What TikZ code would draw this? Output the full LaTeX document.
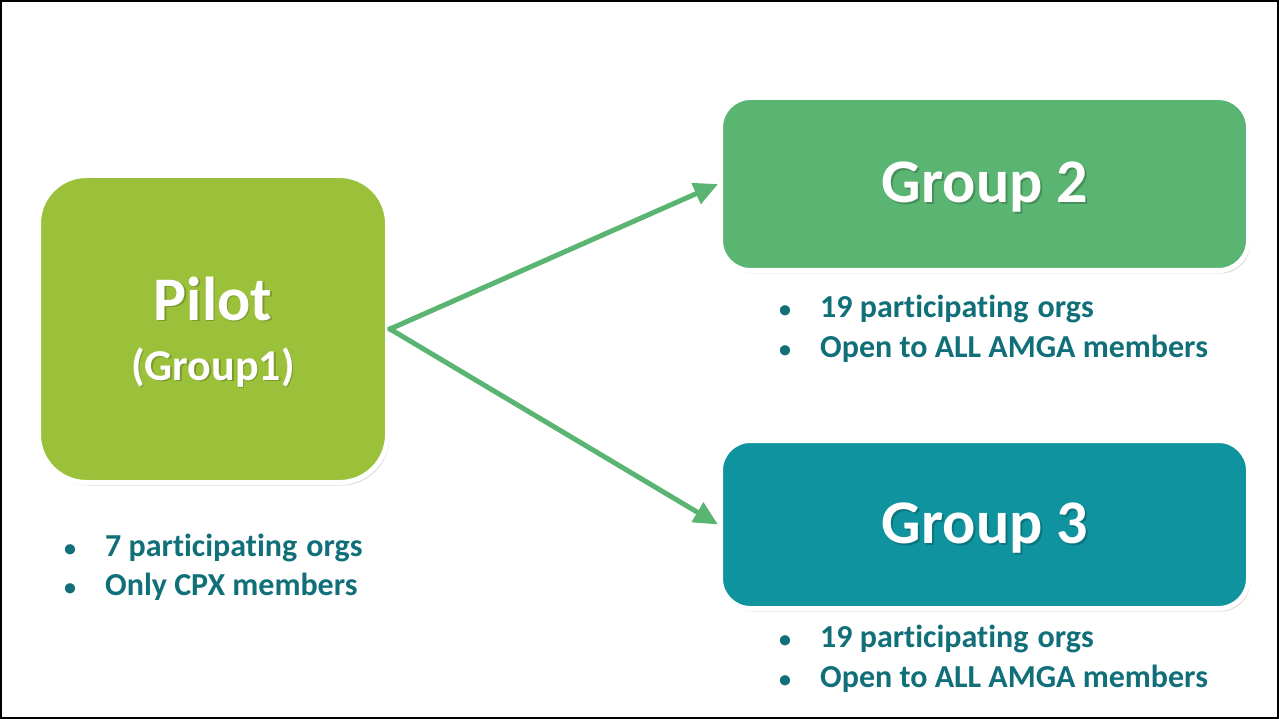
\documentclass[tikz,border=0pt]{standalone}
\usepackage{fontspec}
\setmainfont{Carlito}[Ligatures=NoCommon]
\usetikzlibrary{arrows.meta,shadows}
\definecolor{pilotc}{HTML}{9BC03A}
\definecolor{gtwo}{HTML}{5AB572}
\definecolor{gthree}{HTML}{0E939F}
\definecolor{teal}{HTML}{106F78}
\begin{document}
\begin{tikzpicture}[x=1pt,y=-1pt,
  box/.style={draw=white, line width=5pt, inner sep=0pt,
    drop shadow={shadow xshift=2pt, shadow yshift=-3pt, opacity=0.15, fill=black}},
  bigtext/.style={text=white, font=\bfseries\fontsize{62}{70}\selectfont, anchor=base},
  pilottext/.style={text=white, font=\bfseries\fontsize{62}{70}\selectfont, anchor=base},
  subtext/.style={text=white, font=\bfseries\fontsize{44}{50}\selectfont, anchor=base},
  shadowtext/.style={text=black, opacity=0.2},
  bullet/.style={text=teal, font=\bfseries\fontsize{24}{30}\selectfont, anchor=base, inner sep=0pt},
  item/.style={text=teal, font=\bfseries\fontsize{32}{38}\selectfont, anchor=base west, inner sep=0pt},
  arrow/.style={draw=gtwo, line width=5pt, -{Triangle[length=24pt,width=22pt]}}
]
\useasboundingbox (0,0) rectangle (1279,719);
\draw[line width=2pt] (1,1) rectangle (1278,718);

% boxes
\node[box, fill=pilotc, rounded corners=48pt, minimum width=349pt, minimum height=307pt] (pilot) at (213,329) {};
\node[box, fill=gtwo, rounded corners=30pt, minimum width=528pt, minimum height=173pt] (g2) at (984.5,184) {};
\node[box, fill=gthree, rounded corners=30pt, minimum width=528pt, minimum height=168pt] (g3) at (984.5,524.5) {};

% titles with shadows
\node[pilottext, shadowtext] (pilotS) at (214.5,321.5) {Pilot};
\node[pilottext] (pilotT) at (213,320) {Pilot};
\node[subtext, shadowtext] (grp1S) at (214.5,381.5) {(Group1)};
\node[subtext] (grp1T) at (213,380) {(Group1)};
\node[bigtext, shadowtext] (g2S) at (987,205) {Group 2};
\node[bigtext] (g2T) at (985,203) {Group 2};
\node[bigtext, shadowtext] (g3S) at (987,545) {Group 3};
\node[bigtext] (g3T) at (985,543) {Group 3};

% arrows
\draw[arrow, shorten <=-2pt] (pilot.east) -- (g2.west);
\draw[arrow, shorten <=-2pt] (pilot.east) -- (g3.west);

% bullet lists
\node[bullet] (pb1) at (70,556) {•};
\node[item] (pi1) at (105,556) {7 participating\hspace{2pt} orgs};
\node[bullet] (pb2) at (70,595) {•};
\node[item] (pi2) at (105,595) {Only CPX members};

\node[bullet] (ab1) at (785,317) {•};
\node[item] (ai1) at (820,317) {19 participating\hspace{2pt} orgs};
\node[bullet] (ab2) at (785,357) {•};
\node[item] (ai2) at (820,357) {Open to ALL AMGA members};

\node[bullet] (bb1) at (785,647) {•};
\node[item] (bi1) at (820,647) {19 participating\hspace{2pt} orgs};
\node[bullet] (bb2) at (785,687) {•};
\node[item] (bi2) at (820,687) {Open to ALL AMGA members};
\end{tikzpicture}
\end{document}
